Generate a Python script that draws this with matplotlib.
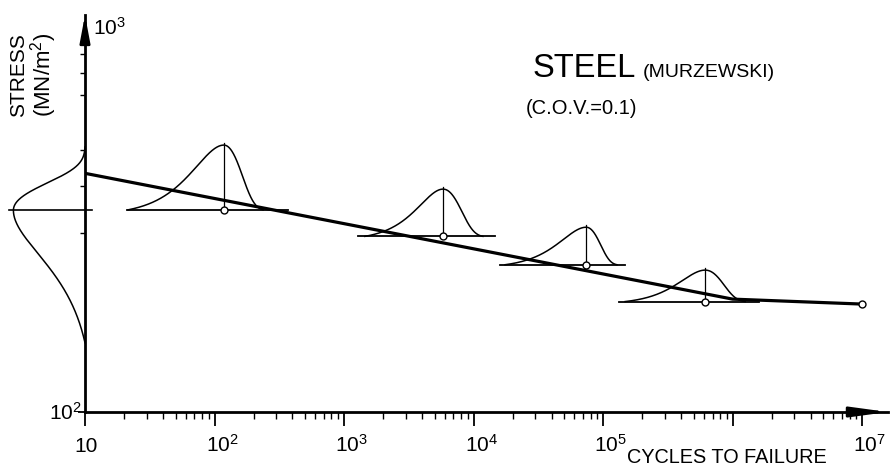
import numpy as np
import matplotlib
matplotlib.use('Agg')
import matplotlib.pyplot as plt
from matplotlib.ticker import FixedLocator, NullFormatter, LogLocator

plt.rcParams['font.family'] = ['Liberation Sans', 'DejaVu Sans']
plt.rcParams['mathtext.default'] = 'regular'

# ---------------- data ----------------
# S-N curve (cycles, stress MN/m2)
sn_cycles = [10, 1.0e6, 1.0e7]
sn_stress = [433, 200, 194]

# fatigue-life distributions at four stress levels
life_mode = [118, 5810, 74000, 614000]
life_low = [21.5, 1450, 17500, 148000]
life_high = [237, 11800, 128000, 1.25e6]
life_stress = [346, 294, 247, 197]
life_peak_stress = [515, 393, 311, 239]
base_low = [21, 1280, 16000, 133000]
base_high = [370, 14700, 148000, 1.6e6]

# strength distribution drawn on the stress axis
str_mode = 345
str_low = 153
str_high = 509
str_peak_cycles = 2.8
str_line_cycles = [2.6, 11.3]

x_tick_values = [1e1, 1e2, 1e3, 1e4, 1e5, 1e7]
x_tick_labels = ['10', '$10^{2}$', '$10^{3}$', '$10^{4}$', '$10^{5}$', '$10^{7}$']
x_major = [1e1, 1e2, 1e3, 1e4, 1e5, 1e6, 1e7]
y_minor = [300, 400, 500, 700, 800, 900]


def skew_shape(t, zl, zr):
    g = lambda z: np.exp(z - np.exp(z) + 1.0)
    z = np.where(t < 0, t * zl, t * zr)
    gend = np.where(t < 0, g(-zl), g(zr))
    return np.clip((g(z) - gend) / (1.0 - gend), 0, None)


W, H = 890, 470
fig = plt.figure(figsize=(W / 100, H / 100), dpi=100)
fig.patch.set_facecolor('white')
P = lambda x, y: (x / W, 1 - y / H)

ax = fig.add_axes([85 / W, 58 / H, 803 / W, 397 / H])
ax.set_xscale('log')
ax.set_yscale('log')
ax.set_xlim(10, 10 ** 7.2)
ax.set_ylim(100, 10 ** (2 + 397 / 375))

for s in ['top', 'right']:
    ax.spines[s].set_visible(False)
for s in ['left', 'bottom']:
    ax.spines[s].set_linewidth(2.0)

ax.xaxis.set_major_locator(FixedLocator(x_major))
ax.xaxis.set_minor_locator(LogLocator(base=10, subs=np.arange(2, 10)))
ax.xaxis.set_major_formatter(NullFormatter())
ax.xaxis.set_minor_formatter(NullFormatter())
ax.yaxis.set_major_locator(FixedLocator([100]))
ax.yaxis.set_minor_locator(FixedLocator(y_minor))
ax.yaxis.set_major_formatter(NullFormatter())
ax.yaxis.set_minor_formatter(NullFormatter())
ax.tick_params(axis='x', which='major', direction='out', length=10, width=1.3)
ax.tick_params(axis='x', which='minor', direction='out', length=5, width=1.0)
ax.tick_params(axis='y', which='major', direction='out', length=5, width=1.3)
ax.tick_params(axis='y', which='minor', direction='out', length=3.5, width=1.0)

# arrow heads
ax.annotate('', xy=(1, 0), xycoords='axes fraction', xytext=(0.96, 0),
            arrowprops=dict(arrowstyle='-|>,head_length=2.2,head_width=0.3',
                            lw=2, color='k', shrinkA=0, shrinkB=0, mutation_scale=10))
ax.annotate('', xy=(0, 1), xycoords='axes fraction', xytext=(0, 0.95),
            arrowprops=dict(arrowstyle='-|>,head_length=1.6,head_width=0.3',
                            lw=2, color='k', shrinkA=0, shrinkB=0, mutation_scale=10))

# S-N line
ax.plot(sn_cycles, sn_stress, color='k', lw=2.3, solid_capstyle='butt', zorder=4)
ax.plot([sn_cycles[-1]], [sn_stress[-1]], 'o', ms=5, mfc='white', mec='k', mew=1, zorder=6)

# life distributions
for m, lo, hi, s, pk, bl, bh in zip(life_mode, life_low, life_high, life_stress,
                                     life_peak_stress, base_low, base_high):
    lm, llo, lhi = np.log10(m), np.log10(lo), np.log10(hi)
    u = np.linspace(llo, lhi, 500)
    t = np.where(u < lm, (u - lm) / (lm - llo), (u - lm) / (lhi - lm))
    rel = skew_shape(t, 3.5, 2.0)
    ls = np.log10(s) + rel * (np.log10(pk) - np.log10(s))
    ax.plot(10 ** u, 10 ** ls, color='k', lw=1.1, zorder=3)
    ax.plot([bl, bh], [s, s], color='k', lw=1.3, zorder=3)
    ax.plot([m, m], [s, pk * 1.012], color='k', lw=0.9, zorder=3)
    ax.plot([m], [s], 'o', ms=5, mfc='white', mec='k', mew=1, zorder=6)

# strength distribution on the stress axis
lm, llo, lhi = np.log10(str_mode), np.log10(str_low), np.log10(str_high)
u = np.linspace(llo, lhi, 500)
t = np.where(u < lm, (u - lm) / (lm - llo), (u - lm) / (lhi - lm))
rel = skew_shape(t, 3.0, 2.2)
ln = 1 - rel * (1 - np.log10(str_peak_cycles))
ax.plot(10 ** ln, 10 ** u, color='k', lw=1.1, clip_on=False, zorder=3)
ax.plot(str_line_cycles, [str_mode, str_mode], color='k', lw=1.2, clip_on=False, zorder=3)

# x tick labels
for v, lbl in zip(x_tick_values, x_tick_labels):
    if lbl == '10':
        ax.annotate(lbl, xy=(v, 0), xycoords=('data', 'axes fraction'), xytext=(1, -40),
                    textcoords='offset pixels', ha='center', va='baseline', fontsize=15)
    else:
        ax.annotate(lbl, xy=(v, 0), xycoords=('data', 'axes fraction'), xytext=(-9, -40),
                    textcoords='offset pixels', ha='left', va='baseline', fontsize=15)

# y tick labels
fig.text(*P(49, 420), '$10^{2}$', fontsize=15, ha='left', va='baseline')
fig.text(*P(93, 35), '$10^{3}$', fontsize=15, ha='left', va='baseline')

# axis titles
fig.text(*P(627, 463), 'CYCLES TO FAILURE', fontsize=14.3, ha='left', va='baseline')
fig.text(*P(18.5, 117), 'STRESS', fontsize=15, rotation=90, ha='center', va='bottom')
fig.text(*P(43.5, 117), '(MN/m$^{2}$)', fontsize=16, rotation=90, ha='center', va='bottom')

# title texts
fig.text(*P(533, 77), 'STEEL', fontsize=23.5, ha='left', va='baseline')
fig.text(*P(643, 77), '(MURZEWSKI)', fontsize=14, ha='left', va='baseline')
fig.text(*P(526, 114), '(C.O.V.=0.1)', fontsize=14.5, ha='left', va='baseline')

fig.savefig('out.png', dpi=100, facecolor='white')
